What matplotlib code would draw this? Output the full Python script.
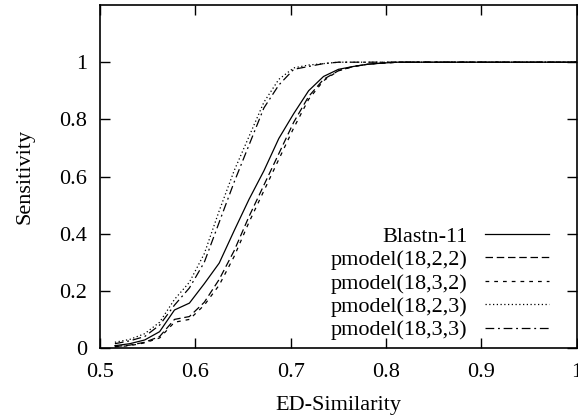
import numpy as np
import matplotlib
matplotlib.use('Agg')
import matplotlib.pyplot as plt
from matplotlib.ticker import FuncFormatter

plt.rcParams['font.family'] = ['Liberation Serif', 'DejaVu Serif']
plt.rcParams['font.size'] = 16

# ED-similarity sampled at k/64
k = np.arange(33, 65)
sim = k / 64.0

blastn = [0.008, 0.015, 0.028, 0.057, 0.133, 0.157, 0.225, 0.297, 0.41, 0.52,
          0.62, 0.733, 0.82, 0.90, 0.95, 0.975, 0.985, 0.993, 0.997, 1.0,
          1.0, 1.0, 1.0, 1.0, 1.0, 1.0, 1.0, 1.0, 1.0, 1.0, 1.0, 1.0]
pm_18_2_2 = [0.005, 0.01, 0.02, 0.04, 0.10, 0.11, 0.16, 0.24, 0.34, 0.46,
             0.57, 0.68, 0.79, 0.88, 0.94, 0.97, 0.985, 0.993, 0.997, 1.0,
             1.0, 1.0, 1.0, 1.0, 1.0, 1.0, 1.0, 1.0, 1.0, 1.0, 1.0, 1.0]
pm_18_3_2 = [0.004, 0.008, 0.018, 0.035, 0.09, 0.10, 0.15, 0.22, 0.32, 0.44,
             0.55, 0.66, 0.77, 0.87, 0.935, 0.97, 0.985, 0.993, 0.997, 1.0,
             1.0, 1.0, 1.0, 1.0, 1.0, 1.0, 1.0, 1.0, 1.0, 1.0, 1.0, 1.0]
pm_18_2_3 = [0.02, 0.03, 0.05, 0.09, 0.17, 0.23, 0.33, 0.48, 0.62, 0.74,
             0.86, 0.94, 0.98, 0.99, 0.995, 1.0, 1.0, 1.0, 1.0, 1.0,
             1.0, 1.0, 1.0, 1.0, 1.0, 1.0, 1.0, 1.0, 1.0, 1.0, 1.0, 1.0]
pm_18_3_3 = [0.015, 0.025, 0.04, 0.08, 0.15, 0.21, 0.30, 0.44, 0.58, 0.71,
             0.84, 0.92, 0.975, 0.985, 0.995, 1.0, 1.0, 1.0, 1.0, 1.0,
             1.0, 1.0, 1.0, 1.0, 1.0, 1.0, 1.0, 1.0, 1.0, 1.0, 1.0, 1.0]

fig = plt.figure(figsize=(5.78, 4.19), dpi=100)
ax = fig.add_axes([0.173, 0.1695, 0.825, 0.8185])

lw = 0.9
ax.plot(sim, blastn, color='black', lw=lw, linestyle='-', label='Blastn-11')
ax.plot(sim, pm_18_2_2, color='black', lw=lw, linestyle=(0, (6, 3)), label='pmodel(18,2,2)')
ax.plot(sim, pm_18_3_2, color='black', lw=lw, linestyle=(0, (3, 4)), label='pmodel(18,3,2)')
ax.plot(sim, pm_18_2_3, color='black', lw=lw, linestyle=(0, (1, 2)), label='pmodel(18,2,3)')
ax.plot(sim, pm_18_3_3, color='black', lw=lw, linestyle=(0, (7, 3, 1.5, 3)), label='pmodel(18,3,3)')

ax.set_xlim(0.5, 1.0)
ax.set_ylim(0, 1.2)
ax.set_xticks(np.arange(0.5, 1.01, 0.1))
ax.set_yticks(np.arange(0, 1.01, 0.2))
fmt = FuncFormatter(lambda v, p: ('%g' % round(v, 2)))
ax.xaxis.set_major_formatter(fmt)
ax.yaxis.set_major_formatter(fmt)
ax.tick_params(direction='in', length=7, width=1, top=True, right=True)
ax.tick_params(axis='x', pad=11)
ax.tick_params(axis='y', pad=9)
for s in ax.spines.values():
    s.set_linewidth(1.2)

ax.set_xlabel('ED-Similarity', labelpad=10)
ax.set_ylabel('Sensitivity', labelpad=18)

ax.legend(loc='lower right', bbox_to_anchor=(0.941, 0.022), frameon=False,
          markerfirst=False, handlelength=2.88, labelspacing=0.13,
          handletextpad=0.77, borderaxespad=0.0, borderpad=0.0)

fig.savefig('out.png', dpi=100)
